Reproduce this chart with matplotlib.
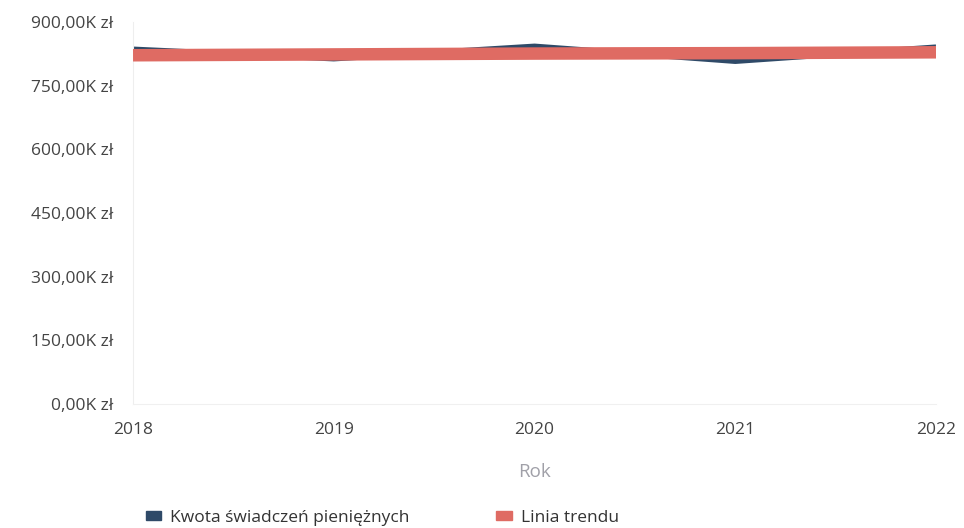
import matplotlib.pyplot as plt
from matplotlib.ticker import FuncFormatter
from matplotlib.patches import Patch

years = [2018, 2019, 2020, 2021, 2022]
kwota = [836000, 814000, 843000, 808000, 841000]
trend = [822000, 824000, 826000, 827000, 829000]
y_ticks = [0, 150000, 300000, 450000, 600000, 750000, 900000]

plt.rcParams['font.family'] = ['Open Sans', 'DejaVu Sans']

fig = plt.figure(figsize=(9.64, 5.28), dpi=100)
ax = fig.add_axes([0.138, 0.235, 0.833, 0.723])

ax.plot(years, kwota, color='#2f4a68', linewidth=4, solid_capstyle='butt', zorder=2)
ax.plot(years, trend, color='#df6b63', linewidth=9, solid_capstyle='butt', zorder=3)

ax.set_xlim(2018, 2022)
ax.set_ylim(0, 900000)
ax.set_xticks(years)
ax.set_yticks(y_ticks)

def fmt(v, pos):
    return f"{v / 1000:,.2f}K zł".replace(',', ' ').replace('.', ',')

ax.yaxis.set_major_formatter(FuncFormatter(fmt))
ax.tick_params(axis='both', length=0, labelsize=12.5, colors='#444444')
ax.tick_params(axis='y', pad=14)
ax.tick_params(axis='x', pad=13)

for s in ['top', 'right']:
    ax.spines[s].set_visible(False)
ax.spines['left'].set_color('#eeeeee')
ax.spines['bottom'].set_color('#f0f0f0')

ax.set_xlabel('Rok', fontsize=13.5, color='#a0a0a8', labelpad=18)

handles = [Patch(color='#2f4a68'), Patch(color='#df6b63')]
fig.legend(handles, ['Kwota świadczeń pieniężnych', 'Linia trendu'],
           loc='lower left', bbox_to_anchor=(0.135, -0.025), ncol=2, frameon=False,
           fontsize=12.5, handlelength=0.9, handleheight=0.45, handletextpad=0.5,
           columnspacing=5.0, labelcolor='#333333')

fig.savefig('out.png', dpi=100)
